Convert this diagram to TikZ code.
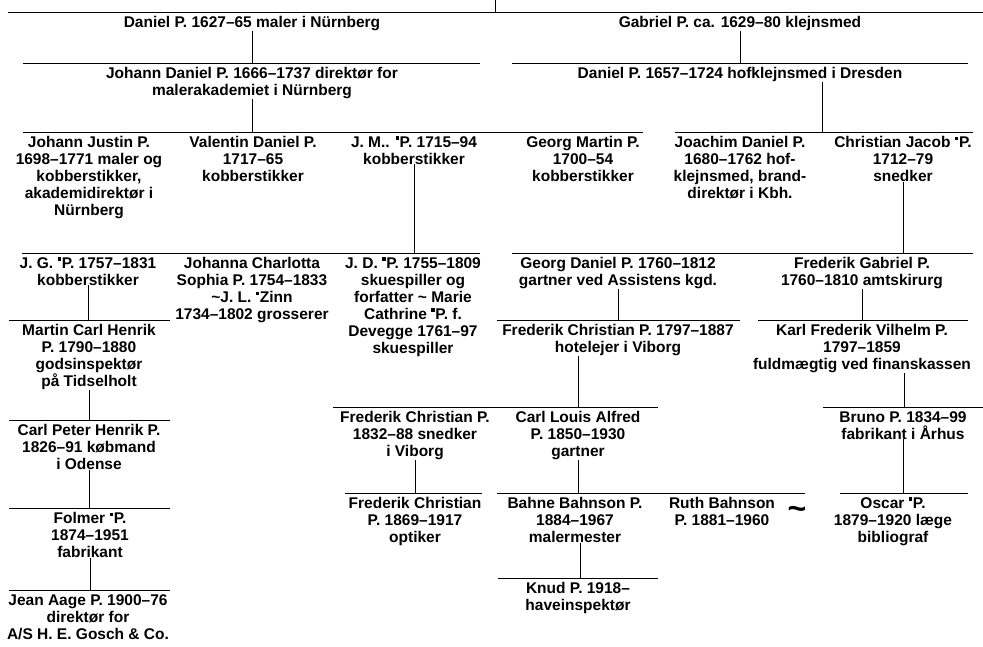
\documentclass[tikz,border=0pt]{standalone}
\usepackage{fontspec}
\setmainfont{Liberation Sans}
\newcommand{\pfont}{\fontsize{15.5}{17}\selectfont\bfseries}
\newcommand{\sq}{\raisebox{7.2pt}{\rule{3.6pt}{3.6pt}}\hspace{0.6pt}}
\begin{document}
\begin{tikzpicture}[x=1pt,y=-1pt,
  person/.style={anchor=north,inner sep=0pt,align=center,font=\pfont},
  ln/.style={line width=0.9pt}]
\useasboundingbox (0,0) rectangle (983,646);
% top
\coordinate (top) at (495,0);
\coordinate (a0) at (8,12); \coordinate (a1) at (983,12);
\draw[ln] (top) -- (top |- a0);
\draw[ln] (a0) -- (a1);
\node[person] (daniel) at (252,16) {Daniel P. 1627–65 maler i Nürnberg};
\node[person] (gabriel) at (740,16) {Gabriel P. ca. 1629–80 klejnsmed};
% row 2
\coordinate (b0) at (23,63); \coordinate (b1) at (480,63);
\coordinate (c0) at (512,63); \coordinate (c1) at (968,63);
\draw[ln] (b0) -- (b1); \draw[ln] (c0) -- (c1);
\draw[ln] (daniel.south) -- (daniel.south |- b0);
\draw[ln] (gabriel.south) -- (gabriel.south |- c0);
\node[person] (jdaniel) at (252,67) {Johann Daniel P. 1666–1737 direktør for\\malerakademiet i Nürnberg};
\node[person] (ddresden) at (740,67) {Daniel P. 1657–1724 hofklejnsmed i Dresden};
% row 3
\coordinate (d0) at (23,132); \coordinate (d1) at (643,132);
\coordinate (e0) at (675,132); \coordinate (e1) at (973,132);
\draw[ln] (d0) -- (d1); \draw[ln] (e0) -- (e1);
\draw[ln] (jdaniel.south) -- (jdaniel.south |- d0);
\coordinate (dd) at (822,132);
\draw[ln] (ddresden.south -| dd) -- (dd);
\node[person] (jjustin) at (89,136) {Johann Justin P.\\1698–1771 maler og\\kobberstikker,\\akademidirektør i\\Nürnberg};
\node[person] (valentin) at (253,136) {Valentin Daniel P.\\1717–65\\kobberstikker};
\node[person] (jm) at (414,136) {J. M.. \sq P. 1715–94\\kobberstikker};
\node[person] (gmartin) at (583,136) {Georg Martin P.\\1700–54\\kobberstikker};
\node[person] (joachim) at (740,136) {Joachim Daniel P.\\1680–1762 hof-\\klejnsmed, brand-\\direktør i Kbh.};
\node[person] (cjacob) at (903,136) {Christian Jacob \sq P.\\1712–79\\snedker};
% row 4
\coordinate (f0) at (22,253); \coordinate (f1) at (480,253);
\coordinate (g0) at (512,253); \coordinate (g1) at (973,253);
\draw[ln] (f0) -- (f1); \draw[ln] (g0) -- (g1);
\draw[ln] (jm.south) -- (jm.south |- f0);
\draw[ln] (cjacob.south) -- (cjacob.south |- g0);
\node[person] (jg) at (88,257) {J. G. \sq P. 1757–1831\\kobberstikker};
\node[person] (johanna) at (252,257) {Johanna Charlotta\\Sophia P. 1754–1833\\\textasciitilde J. L. \sq Zinn\\1734–1802 grosserer};
\node[person] (jd) at (413,257) {J. D. \sq P. 1755–1809\\skuespiller og\\forfatter \textasciitilde{} Marie\\Cathrine \sq P. f.\\Devegge 1761–97\\skuespiller};
\node[person] (gdaniel) at (618,257) {Georg Daniel P. 1760–1812\\gartner ved Assistens kgd.};
\node[person] (fgabriel) at (862,257) {Frederik Gabriel P.\\1760–1810 amtskirurg};
% row 5
\coordinate (h0) at (9,320); \coordinate (h1) at (170,320);
\coordinate (i0) at (497,320); \coordinate (i1) at (740,320);
\coordinate (j0) at (758,320); \coordinate (j1) at (968,320);
\draw[ln] (h0) -- (h1); \draw[ln] (i0) -- (i1); \draw[ln] (j0) -- (j1);
\draw[ln] (jg.south) -- (jg.south |- h0);
\draw[ln] (gdaniel.south) -- (gdaniel.south |- i0);
\draw[ln] (fgabriel.south) -- (fgabriel.south |- j0);
\node[person] (mch) at (89,324) {Martin Carl Henrik\\P. 1790–1880\\godsinspektør\\på Tidselholt};
\node[person] (fc1797) at (618,324) {Frederik Christian P. 1797–1887\\hotelejer i Viborg};
\node[person] (kfv) at (862,324) {Karl Frederik Vilhelm P.\\1797–1859\\fuldmægtig ved finanskassen};
% row 6
\coordinate (k0) at (9,420); \coordinate (k1) at (170,420);
\coordinate (l0) at (333,407); \coordinate (l1) at (658,407);
\coordinate (m0) at (823,407); \coordinate (m1) at (983,407);
\draw[ln] (k0) -- (k1); \draw[ln] (l0) -- (l1); \draw[ln] (m0) -- (m1);
\draw[ln] (mch.south) -- (mch.south |- k0);
\coordinate (fcv) at (578,407);
\draw[ln] (fc1797.south -| fcv) -- (fcv);
\coordinate (kv) at (904,407);
\draw[ln] (kfv.south -| kv) -- (kv);
\node[person] (cph) at (89,424) {Carl Peter Henrik P.\\1826–91 købmand\\i Odense};
\node[person] (fc1832) at (415,411) {Frederik Christian P.\\1832–88 snedker\\i Viborg};
\node[person] (cla) at (578,411) {Carl Louis Alfred\\P. 1850–1930\\gartner};
\node[person] (bruno) at (903,411) {Bruno P. 1834–99\\fabrikant i Århus};
% row 7
\coordinate (n0) at (9,508); \coordinate (n1) at (170,508);
\coordinate (o0) at (345,493); \coordinate (o1) at (482,493);
\coordinate (p0) at (497,493); \coordinate (p1) at (805,493);
\coordinate (q0) at (840,493); \coordinate (q1) at (968,493);
\draw[ln] (n0) -- (n1); \draw[ln] (o0) -- (o1); \draw[ln] (p0) -- (p1); \draw[ln] (q0) -- (q1);
\draw[ln] (cph.south) -- (cph.south |- n0);
\draw[ln] (fc1832.south) -- (fc1832.south |- o0);
\draw[ln] (cla.south) -- (cla.south |- p0);
\draw[ln] (bruno.south) -- (bruno.south |- q0);
\node[person] (folmer) at (90,512) {Folmer \sq P.\\1874–1951\\fabrikant};
\node[person] (fc1869) at (415,497) {Frederik Christian\\P. 1869–1917\\optiker};
\node[person] (bahne) at (575,497) {Bahne Bahnson P.\\1884–1967\\malermester};
\node[person] (ruth) at (722,497) {Ruth Bahnson\\P. 1881–1960};
\node[person] (oscar) at (893,497) {Oscar \sq P.\\1879–1920 læge\\bibliograf};
\node[font=\fontsize{32}{32}\selectfont\bfseries,inner sep=0pt] (mar) at (797,513) {\textasciitilde};
% row 8
\coordinate (r0) at (9,590); \coordinate (r1) at (170,590);
\coordinate (s0) at (498,578); \coordinate (s1) at (658,578);
\draw[ln] (r0) -- (r1); \draw[ln] (s0) -- (s1);
\draw[ln] (folmer.south) -- (folmer.south |- r0);
\coordinate (bv) at (580,578);
\draw[ln] (bahne.south -| bv) -- (bv);
\node[person] (jeanaage) at (88,594) {Jean Aage P. 1900–76\\direktør for\\A/S H. E. Gosch \& Co.};
\node[person] (knud) at (578,582) {Knud P. 1918–\\haveinspektør};
\end{tikzpicture}
\end{document}
